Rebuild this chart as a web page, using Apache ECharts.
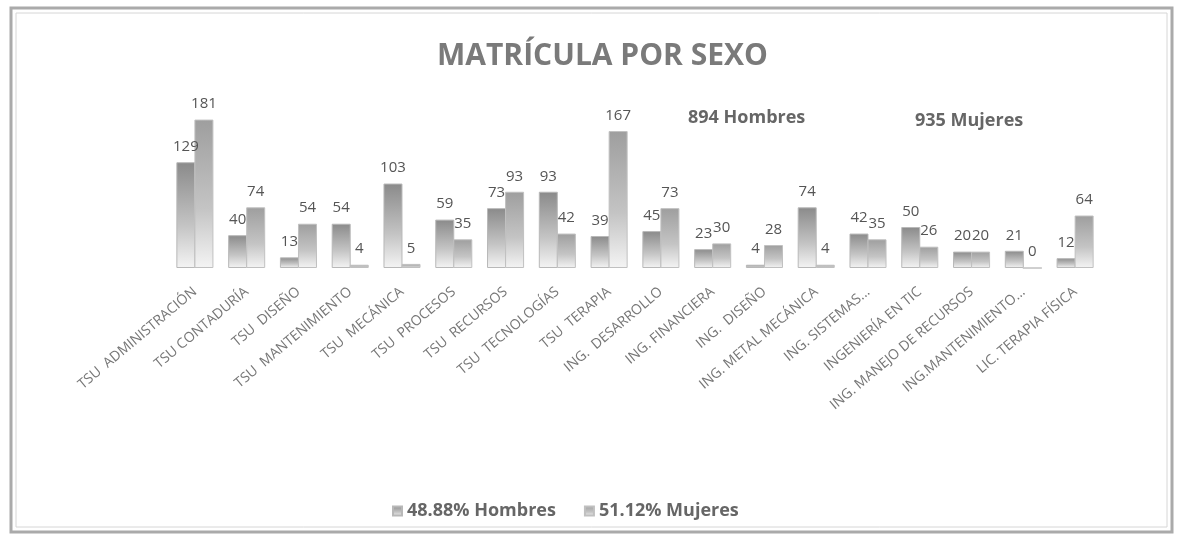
<!DOCTYPE html>
<html>
<head>
<meta charset="utf-8">
<script src="https://cdn.jsdelivr.net/npm/echarts@6/dist/echarts.min.js"></script>
<style>
  html, body { margin: 0; padding: 0; background: #fff; }
  #chart { width: 1184px; height: 539px; }
</style>
</head>
<body>
<div id="chart"></div>
<script>
// categorias y valores
var carreras = [
  "TSU  ADMINISTRACIÓN", "TSU CONTADURÍA", "TSU  DISEÑO", "TSU  MANTENIMIENTO",
  "TSU  MECÁNICA", "TSU  PROCESOS", "TSU  RECURSOS", "TSU  TECNOLOGÍAS",
  "TSU  TERAPIA", "ING.  DESARROLLO", "ING. FINANCIERA", "ING.  DISEÑO",
  "ING. METAL MECÁNICA", "ING. SISTEMAS...", "INGENIERÍA EN TIC",
  "ING. MANEJO DE RECURSOS", "ING.MANTENIMIENTO...", "LIC. TERAPIA FÍSICA"
];
var hombres = [129, 40, 13, 54, 103, 59, 73, 93, 39, 45, 23, 4, 74, 42, 50, 20, 21, 12];
var mujeres = [181, 74, 54, 4, 5, 35, 93, 42, 167, 73, 30, 28, 4, 35, 26, 20, 0, 64];
var nombres = ["48.88% Hombres", "51.12% Mujeres"];

var chart = echarts.init(document.getElementById("chart"));

function gris(top) {
  return new echarts.graphic.LinearGradient(0, 0, 0, 1, [
    { offset: 0, color: top },
    { offset: 0.6, color: "#c4c4c4" },
    { offset: 1, color: "#f4f4f4" }
  ]);
}

var etiqueta = {
  show: true,
  position: "top",
  distance: 8,
  color: "#555",
  fontSize: 15,
  fontFamily: "Open Sans"
};

var option = {
  backgroundColor: "#fff",
  title: {
    text: "MATRÍCULA POR SEXO",
    left: 432,
    top: 36,
    textStyle: { color: "#7a7a7a", fontSize: 30, fontWeight: "bold", fontFamily: "Open Sans" }
  },
  graphic: [
    { type: "rect", shape: { x: 11, y: 8, width: 1161, height: 524 },
      style: { fill: "none", stroke: "#aaa", lineWidth: 3 } },
    { type: "rect", shape: { x: 16, y: 13, width: 1151, height: 514 },
      style: { fill: "none", stroke: "#d6d6d6", lineWidth: 1 } },
    { type: "text", left: 688, top: 109,
      style: { text: "894 Hombres", fill: "#666", fontSize: 18, fontWeight: "bold", fontFamily: "Open Sans" } },
    { type: "text", left: 915, top: 112,
      style: { text: "935 Mujeres", fill: "#666", fontSize: 18, fontWeight: "bold", fontFamily: "Open Sans" } }
  ],
  legend: {
    data: nombres,
    bottom: 14,
    left: 387,
    itemWidth: 9,
    itemHeight: 9,
    itemGap: 28,
    icon: "rect",
    textStyle: { color: "#666", fontSize: 18, fontWeight: "bold", fontFamily: "Open Sans" }
  },
  grid: { left: 169, right: 83, top: 104, bottom: 271 },
  xAxis: {
    type: "category",
    data: carreras,
    axisLine: { show: false },
    axisTick: { show: false },
    axisLabel: {
      interval: 0,
      rotate: 40,
      margin: 22,
      color: "#777",
      fontSize: 14,
      fontFamily: "Open Sans"
    }
  },
  yAxis: {
    type: "value",
    min: 0,
    max: 200,
    show: false,
    splitLine: { show: false }
  },
  series: [
    {
      name: nombres[0],
      type: "bar",
      data: hombres,
      barWidth: 19,
      barGap: "-5%",
      itemStyle: { color: gris("#8a8a8a"), borderColor: "#b8b8b8", borderWidth: 1 },
      label: etiqueta
    },
    {
      name: nombres[1],
      type: "bar",
      data: mujeres,
      barWidth: 19,
      itemStyle: { color: gris("#9e9e9e"), borderColor: "#c0c0c0", borderWidth: 1 },
      label: etiqueta
    }
  ]
};

chart.setOption(option);
</script>
</body>
</html>
